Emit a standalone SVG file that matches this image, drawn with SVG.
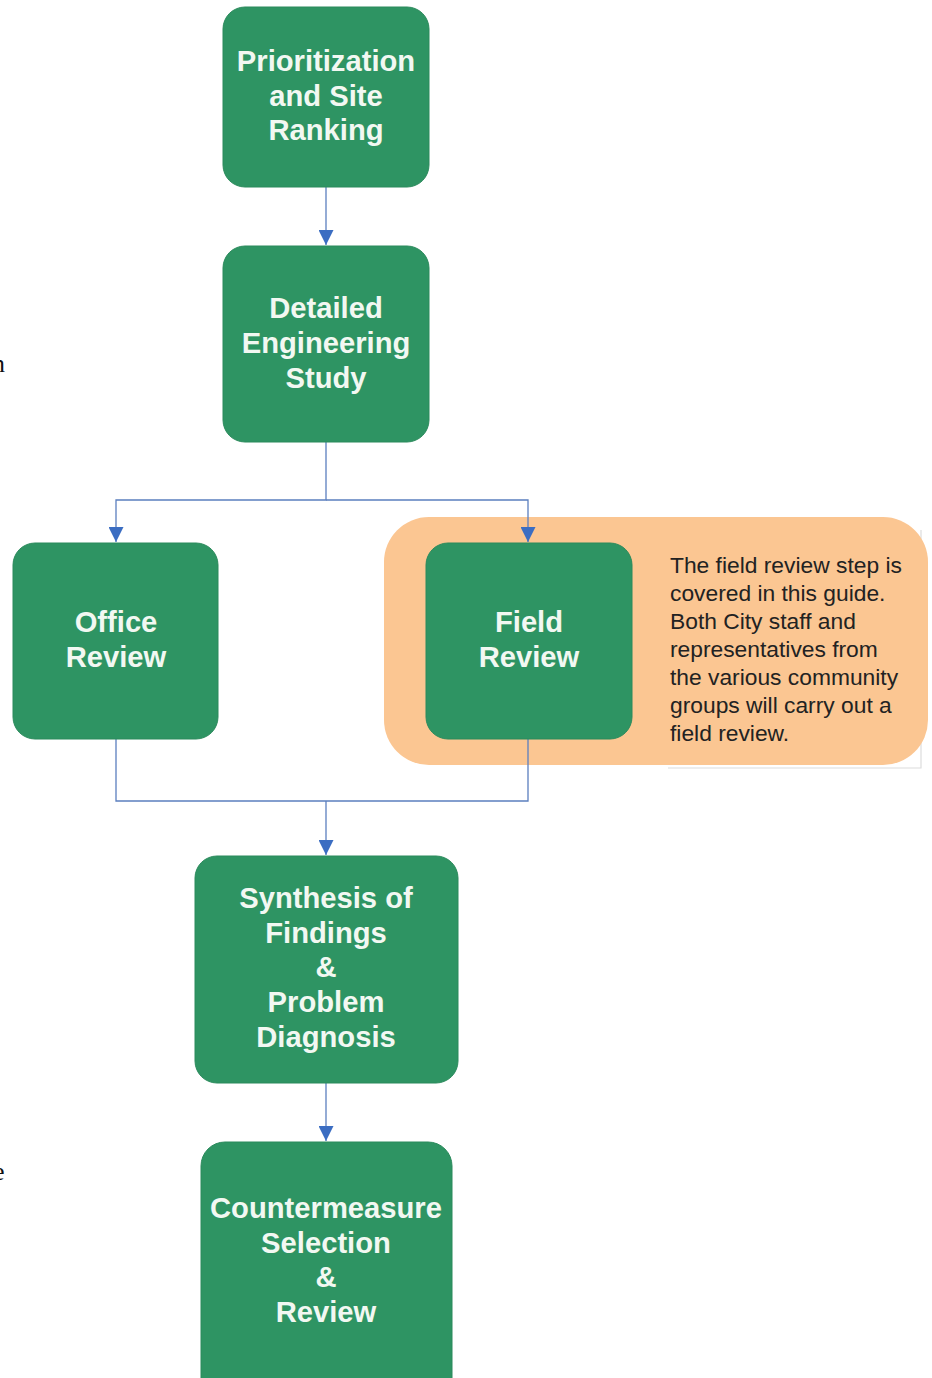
<svg xmlns="http://www.w3.org/2000/svg" width="932" height="1378" viewBox="0 0 932 1378">
<style>
.node{fill:#2e9463;stroke:#2b8a5c;stroke-width:1}
.lbl{font-family:"Liberation Sans",Arial,sans-serif;font-weight:bold;font-size:29.2px;fill:#f2f8f2;text-anchor:middle}
.note{font-family:"Liberation Sans",Arial,sans-serif;font-size:22.8px;fill:#222}
.conn{fill:none;stroke:#5b7fbf;stroke-width:1.3}
.stray{font-family:"Liberation Serif","Times New Roman",serif;font-size:26px;fill:#111}
</style>
<defs>
<marker id="arr" viewBox="0 0 10 10" refX="10" refY="5" markerWidth="15" markerHeight="15" markerUnits="userSpaceOnUse" orient="auto">
<path d="M0,0 L10,5 L0,10 z" fill="#3b6dc2"/>
</marker>
</defs>
<rect width="932" height="1378" fill="#ffffff"/>
<text class="stray" x="-8" y="372">n</text>
<text class="stray" x="-7" y="1180">e</text>
<g id="note-box">
<path d="M668,768 L921,768 L921,530" fill="none" stroke="#dcdcdc" stroke-width="1.2"/>
<rect x="384" y="517" width="544" height="248" rx="45" fill="#fbc692"/>
<text class="note" x="670" y="573">The field review step is</text>
<text class="note" x="670" y="601">covered in this guide.</text>
<text class="note" x="670" y="629">Both City staff and</text>
<text class="note" x="670" y="657">representatives from</text>
<text class="note" x="670" y="685">the various community</text>
<text class="note" x="670" y="713">groups will carry out a</text>
<text class="note" x="670" y="741">field review.</text>
</g>
<g id="connectors">
<path class="conn" d="M326,187 L326,245" marker-end="url(#arr)"/>
<path class="conn" d="M326,442 L326,500 L116,500 L116,542" marker-end="url(#arr)"/>
<path class="conn" d="M326,500 L528,500 L528,542" marker-end="url(#arr)"/>
<path class="conn" d="M116,739 L116,801 L528,801 L528,739"/>
<path class="conn" d="M326,801 L326,855" marker-end="url(#arr)"/>
<path class="conn" d="M326,1083 L326,1141" marker-end="url(#arr)"/>
</g>
<g id="n-prioritization">
<rect class="node" x="223" y="7" width="206" height="180" rx="22"/>
<text class="lbl" x="326" y="71">Prioritization</text>
<text class="lbl" x="326" y="106">and Site</text>
<text class="lbl" x="326" y="140">Ranking</text>
</g>
<g id="n-detailed">
<rect class="node" x="223" y="246" width="206" height="196" rx="22"/>
<text class="lbl" x="326" y="318">Detailed</text>
<text class="lbl" x="326" y="353">Engineering</text>
<text class="lbl" x="326" y="388">Study</text>
</g>
<g id="n-office">
<rect class="node" x="13" y="543" width="205" height="196" rx="22"/>
<text class="lbl" x="116" y="632">Office</text>
<text class="lbl" x="116" y="667">Review</text>
</g>
<g id="n-field">
<rect class="node" x="426" y="543" width="206" height="196" rx="22"/>
<text class="lbl" x="529" y="632">Field</text>
<text class="lbl" x="529" y="667">Review</text>
</g>
<g id="n-synthesis">
<rect class="node" x="195" y="856" width="263" height="227" rx="22"/>
<text class="lbl" x="326" y="908">Synthesis of</text>
<text class="lbl" x="326" y="943">Findings</text>
<text class="lbl" x="326" y="977">&amp;</text>
<text class="lbl" x="326" y="1012">Problem</text>
<text class="lbl" x="326" y="1047">Diagnosis</text>
</g>
<g id="n-countermeasure">
<rect class="node" x="201" y="1142" width="251" height="260" rx="24"/>
<text class="lbl" x="326" y="1218">Countermeasure</text>
<text class="lbl" x="326" y="1253">Selection</text>
<text class="lbl" x="326" y="1287">&amp;</text>
<text class="lbl" x="326" y="1322">Review</text>
</g>
</svg>
